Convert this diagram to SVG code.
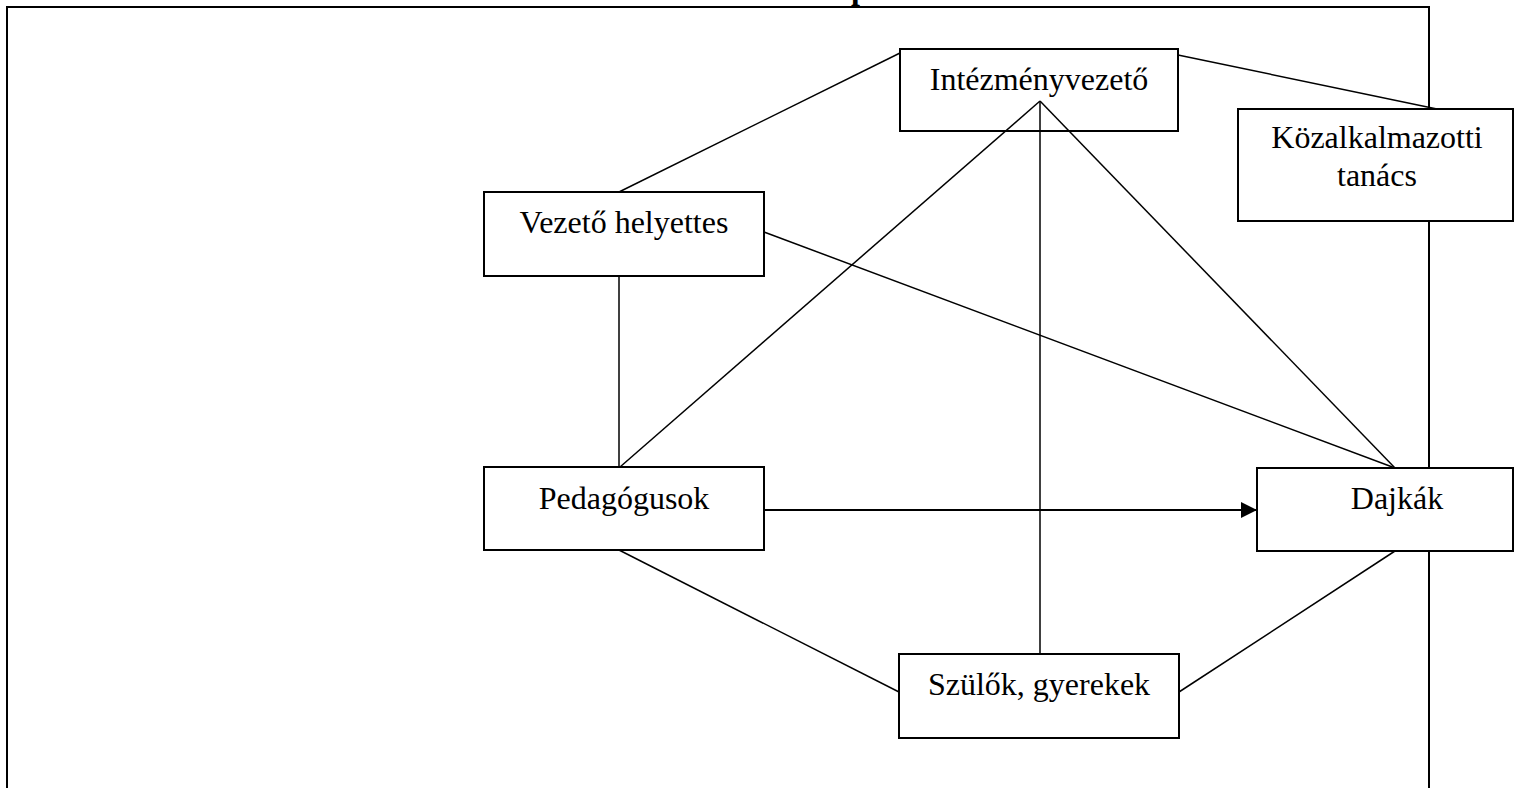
<svg xmlns="http://www.w3.org/2000/svg" width="1514" height="788" viewBox="0 0 1514 788">
<style>
.box{fill:#fff;stroke:#000;stroke-width:2}
.lbl{font-family:"Liberation Serif","Times New Roman",serif;font-size:32px;fill:#000;text-anchor:middle}
.ln{stroke:#000;stroke-width:1.5;fill:none}
</style>
<defs>
<marker id="ah" markerUnits="userSpaceOnUse" markerWidth="16" markerHeight="16" refX="16" refY="8" orient="auto">
<path d="M0,0 L16,8 L0,16 Z" fill="#000"/>
</marker>
</defs>
<rect width="1514" height="788" fill="#fff"/>
<text x="851" y="-1" style="font-family:'Liberation Serif',serif;font-size:32px;font-weight:bold">p</text>
<g id="frame">
<path d="M7,800 L7,7 L1429,7 L1429,800" fill="none" stroke="#000" stroke-width="2"/>
</g>
<g id="intezmenyvezeto">
<rect class="box" x="900" y="49" width="278" height="82"/>
<text class="lbl" x="1039" y="90">Intézményvezető</text>
</g>
<g id="kozalkalmazotti">
<rect class="box" x="1238" y="109" width="275" height="112"/>
<text class="lbl" x="1377" y="148">Közalkalmazotti</text>
<text class="lbl" x="1377" y="186">tanács</text>
</g>
<g id="vezeto-helyettes">
<rect class="box" x="484" y="192" width="280" height="84"/>
<text class="lbl" x="624" y="233">Vezető helyettes</text>
</g>
<g id="pedagogusok">
<rect class="box" x="484" y="467" width="280" height="83"/>
<text class="lbl" x="624" y="509">Pedagógusok</text>
</g>
<g id="dajkak">
<rect class="box" x="1257" y="468" width="256" height="83"/>
<text class="lbl" x="1397" y="509">Dajkák</text>
</g>
<g id="szulok">
<rect class="box" x="899" y="654" width="280" height="84"/>
<text class="lbl" x="1039" y="695">Szülők, gyerekek</text>
</g>
<g id="connectors">
<line class="ln" x1="619" y1="192" x2="900" y2="53"/>
<line class="ln" x1="1178" y1="55" x2="1437" y2="109"/>
<line class="ln" x1="1040" y1="101" x2="620" y2="467"/>
<line class="ln" x1="1040" y1="101" x2="1040" y2="654"/>
<line class="ln" x1="1040" y1="101" x2="1395" y2="468"/>
<line class="ln" x1="764" y1="232" x2="1395" y2="468"/>
<line class="ln" x1="619" y1="276" x2="619" y2="467"/>
<line class="ln" x1="619" y1="550" x2="899" y2="692"/>
<line class="ln" x1="1179" y1="692" x2="1395" y2="551"/>
<line x1="764" y1="510" x2="1257" y2="510" stroke="#000" stroke-width="2.2" marker-end="url(#ah)"/>
</g>
</svg>
